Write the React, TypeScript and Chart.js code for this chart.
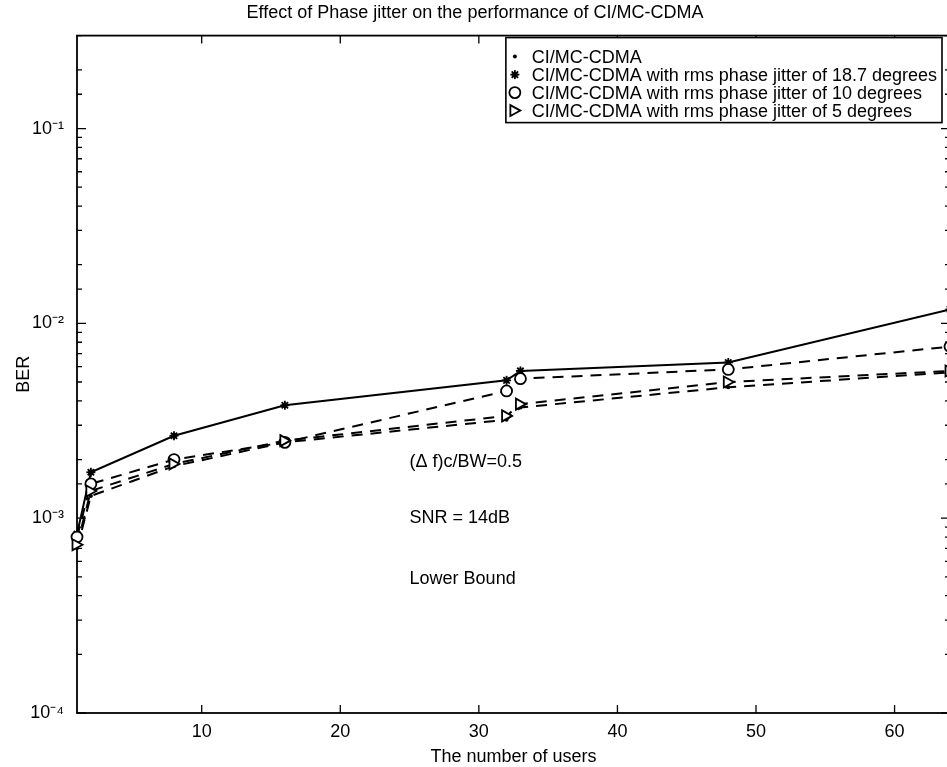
import React, { useEffect, useRef } from "react";
import { Chart, registerables } from "chart.js";

Chart.register(...registerables);

// Number of active users on the x axis
const users = [1, 2, 8, 16, 32, 33, 48, 64];

// Bit error rate for each configuration
const berNoJitter = [7.0e-4, 1.3e-3, 1.85e-3, 2.45e-3, 3.2e-3, 3.7e-3, 4.7e-3, 5.6e-3];
const berJitter187 = [8.3e-4, 1.72e-3, 2.65e-3, 3.8e-3, 5.1e-3, 5.7e-3, 6.3e-3, 1.18e-2];
const berJitter10 = [8.0e-4, 1.5e-3, 2.0e-3, 2.45e-3, 4.5e-3, 5.2e-3, 5.8e-3, 7.6e-3];
const berJitter5 = [7.3e-4, 1.38e-3, 1.9e-3, 2.5e-3, 3.35e-3, 3.85e-3, 5.0e-3, 5.7e-3];

const seriesLabels = [
  "CI/MC-CDMA",
  "CI/MC-CDMA with rms phase jitter of 18.7 degrees",
  "CI/MC-CDMA with rms phase jitter of 10 degrees",
  "CI/MC-CDMA with rms phase jitter of 5 degrees",
];

const xTickValues = [10, 20, 30, 40, 50, 60];
const yMin = 1e-4;
const yMax = 0.3;

// Text notes placed in data coordinates
const notes = [
  { x: 25, y: 1.95e-3, text: "(Δ f)c/BW=0.5" },
  { x: 25, y: 1.0e-3, text: "SNR = 14dB" },
  { x: 25, y: 4.9e-4, text: "Lower Bound" },
];

const FONT = "'Liberation Sans', Arial, Helvetica, sans-serif";
const SUP: Record<string, string> = { "-": "⁻", "0": "⁰", "1": "¹", "2": "²", "3": "³", "4": "⁴", "5": "⁵" };

const isDecade = (v: number) => Math.abs(Math.log10(v) - Math.round(Math.log10(v))) < 1e-6;

const toPoints = (ys: number[]) => users.map((u, i) => ({ x: u, y: ys[i] }));

type MarkerKind = "dot" | "star" | "circle" | "tri";

function drawMarker(ctx: CanvasRenderingContext2D, kind: MarkerKind, x: number, y: number) {
  ctx.save();
  ctx.strokeStyle = "#000";
  ctx.fillStyle = "#000";
  ctx.lineWidth = 1.8;
  if (kind === "dot") {
    ctx.beginPath();
    ctx.arc(x, y, 2, 0, Math.PI * 2);
    ctx.fill();
  } else if (kind === "star") {
    ctx.beginPath();
    ctx.arc(x, y, 2.8, 0, Math.PI * 2);
    ctx.fill();
    for (let k = 0; k < 4; k++) {
      const a = (k * Math.PI) / 4;
      ctx.beginPath();
      ctx.moveTo(x - 4.5 * Math.cos(a), y - 4.5 * Math.sin(a));
      ctx.lineTo(x + 4.5 * Math.cos(a), y + 4.5 * Math.sin(a));
      ctx.stroke();
    }
  } else if (kind === "circle") {
    ctx.beginPath();
    ctx.arc(x, y, 5.5, 0, Math.PI * 2);
    ctx.fillStyle = "#fff";
    ctx.fill();
    ctx.stroke();
  } else {
    ctx.beginPath();
    ctx.moveTo(x - 4.5, y - 5.5);
    ctx.lineTo(x + 5.5, y);
    ctx.lineTo(x - 4.5, y + 5.5);
    ctx.closePath();
    ctx.fillStyle = "#fff";
    ctx.fill();
    ctx.stroke();
  }
  ctx.restore();
}

const markerKinds: MarkerKind[] = ["dot", "star", "circle", "tri"];

// Box around the axes with inward-pointing tick marks
const framePlugin = {
  id: "frame",
  afterDatasetsDraw(chart: any) {
    const { ctx, chartArea, scales } = chart;
    const { left, right, top, bottom } = chartArea;
    const x = scales.x;
    const y = scales.y;
    ctx.save();
    ctx.strokeStyle = "#000";
    ctx.lineWidth = 1.8;
    ctx.strokeRect(left, top, right - left, bottom - top);
    ctx.lineWidth = 1.3;
    for (const v of xTickValues) {
      const px = x.getPixelForValue(v);
      ctx.beginPath();
      ctx.moveTo(px, bottom);
      ctx.lineTo(px, bottom - 8);
      ctx.moveTo(px, top);
      ctx.lineTo(px, top + 8);
      ctx.stroke();
    }
    for (const t of y.ticks) {
      const v = t.value;
      if (v < yMin || v > yMax) continue;
      const py = y.getPixelForValue(v);
      const len = isDecade(v) ? 9 : 5;
      ctx.beginPath();
      ctx.moveTo(left, py);
      ctx.lineTo(left + len, py);
      ctx.moveTo(right, py);
      ctx.lineTo(right - len, py);
      ctx.stroke();
    }
    ctx.restore();
  },
};

// Boxed legend drawn inside the upper right corner of the axes
const legendPlugin = {
  id: "boxLegend",
  afterDraw(chart: any) {
    const { ctx, chartArea } = chart;
    ctx.save();
    ctx.font = `18px ${FONT}`;
    const rowH = 18;
    const textW = Math.max(...seriesLabels.map((s) => ctx.measureText(s).width));
    const markerCol = 26;
    const w = markerCol + textW + 5;
    const h = 19 + rowH * (seriesLabels.length - 1) + 12;
    const bx = chartArea.right - 8 - w;
    const by = chartArea.top + 2;
    ctx.fillStyle = "#fff";
    ctx.fillRect(bx, by, w, h);
    ctx.strokeStyle = "#000";
    ctx.lineWidth = 1.6;
    ctx.strokeRect(bx, by, w, h);
    ctx.textBaseline = "middle";
    ctx.textAlign = "left";
    seriesLabels.forEach((label, i) => {
      const cy = by + 19 + rowH * i;
      drawMarker(ctx, markerKinds[i], bx + 9, cy);
      ctx.fillStyle = "#000";
      ctx.fillText(label, bx + markerCol, cy + 1);
    });
    ctx.restore();
  },
};

// Marker drawing on top of the lines
const markerPlugin = {
  id: "markers",
  afterDatasetsDraw(chart: any) {
    const { ctx } = chart;
    chart.data.datasets.forEach((_ds: any, i: number) => {
      const meta = chart.getDatasetMeta(i);
      meta.data.forEach((pt: any) => drawMarker(ctx, markerKinds[i], pt.x, pt.y));
    });
  },
};

const notesPlugin = {
  id: "notes",
  afterDraw(chart: any) {
    const { ctx, scales } = chart;
    ctx.save();
    ctx.font = `18px ${FONT}`;
    ctx.fillStyle = "#000";
    ctx.textAlign = "left";
    ctx.textBaseline = "middle";
    for (const n of notes) {
      ctx.fillText(n.text, scales.x.getPixelForValue(n.x), scales.y.getPixelForValue(n.y));
    }
    ctx.restore();
  },
};

export default function App() {
  const canvasRef = useRef<HTMLCanvasElement>(null);

  useEffect(() => {
    document.body.style.margin = "0";
    const canvas = canvasRef.current;
    if (!canvas) return;
    const lineBase = {
      borderColor: "#000",
      backgroundColor: "#000",
      borderWidth: 2,
      pointRadius: 0,
      pointHoverRadius: 0,
      tension: 0,
      fill: false,
    };
    const dash = [11, 8];
    const chart = new Chart(canvas, {
      type: "line",
      data: {
        datasets: [
          { ...lineBase, label: seriesLabels[0], data: toPoints(berNoJitter), borderDash: dash },
          { ...lineBase, label: seriesLabels[1], data: toPoints(berJitter187) },
          { ...lineBase, label: seriesLabels[2], data: toPoints(berJitter10), borderDash: dash },
          { ...lineBase, label: seriesLabels[3], data: toPoints(berJitter5), borderDash: dash },
        ],
      },
      options: {
        responsive: false,
        animation: false,
        events: [],
        layout: { padding: 0, autoPadding: false },
        plugins: {
          legend: { display: false },
          tooltip: { enabled: false },
          title: {
            display: true,
            text: "Effect of Phase jitter on the performance of CI/MC-CDMA",
            color: "#000",
            font: { family: FONT, size: 18, weight: "normal" },
            padding: { top: 2, bottom: 12 },
          },
        },
        scales: {
          x: {
            type: "linear",
            min: 1,
            max: 64,
            grid: { display: false },
            border: { display: false },
            afterBuildTicks: (scale: any) => {
              scale.ticks = xTickValues.map((v) => ({ value: v }));
            },
            afterFit: (scale: any) => {
              scale.height = 54;
            },
            ticks: {
              color: "#000",
              font: { family: FONT, size: 18 },
              padding: 0,
              maxRotation: 0,
              autoSkip: false,
            },
            title: {
              display: true,
              text: "The number of users",
              color: "#000",
              font: { family: FONT, size: 18, lineHeight: 1.1 },
              padding: { top: 0, bottom: 0 },
            },
          },
          y: {
            type: "logarithmic",
            min: yMin,
            max: yMax,
            grid: { display: false },
            border: { display: false },
            afterFit: (scale: any) => {
              scale.width = 77;
            },
            ticks: {
              color: "#000",
              font: { family: FONT, size: 18 },
              padding: 5,
              autoSkip: false,
              callback: (v: any) => {
                const n = Number(v);
                if (!isDecade(n)) return "";
                const e = String(Math.round(Math.log10(n)));
                return "10" + e.split("").map((c) => SUP[c] ?? c).join("");
              },
            },
            title: {
              display: true,
              text: "BER",
              color: "#000",
              font: { family: FONT, size: 18 },
              padding: { top: 13, bottom: 0 },
            },
          },
        },
      },
      plugins: [framePlugin, markerPlugin, notesPlugin, legendPlugin],
    });
    return () => chart.destroy();
  }, []);

  return (
    <div style={{ position: "relative", width: 947, height: 767, overflow: "hidden", background: "#fff" }}>
      <canvas ref={canvasRef} width={950} height={767} style={{ display: "block" }} />
    </div>
  );
}
